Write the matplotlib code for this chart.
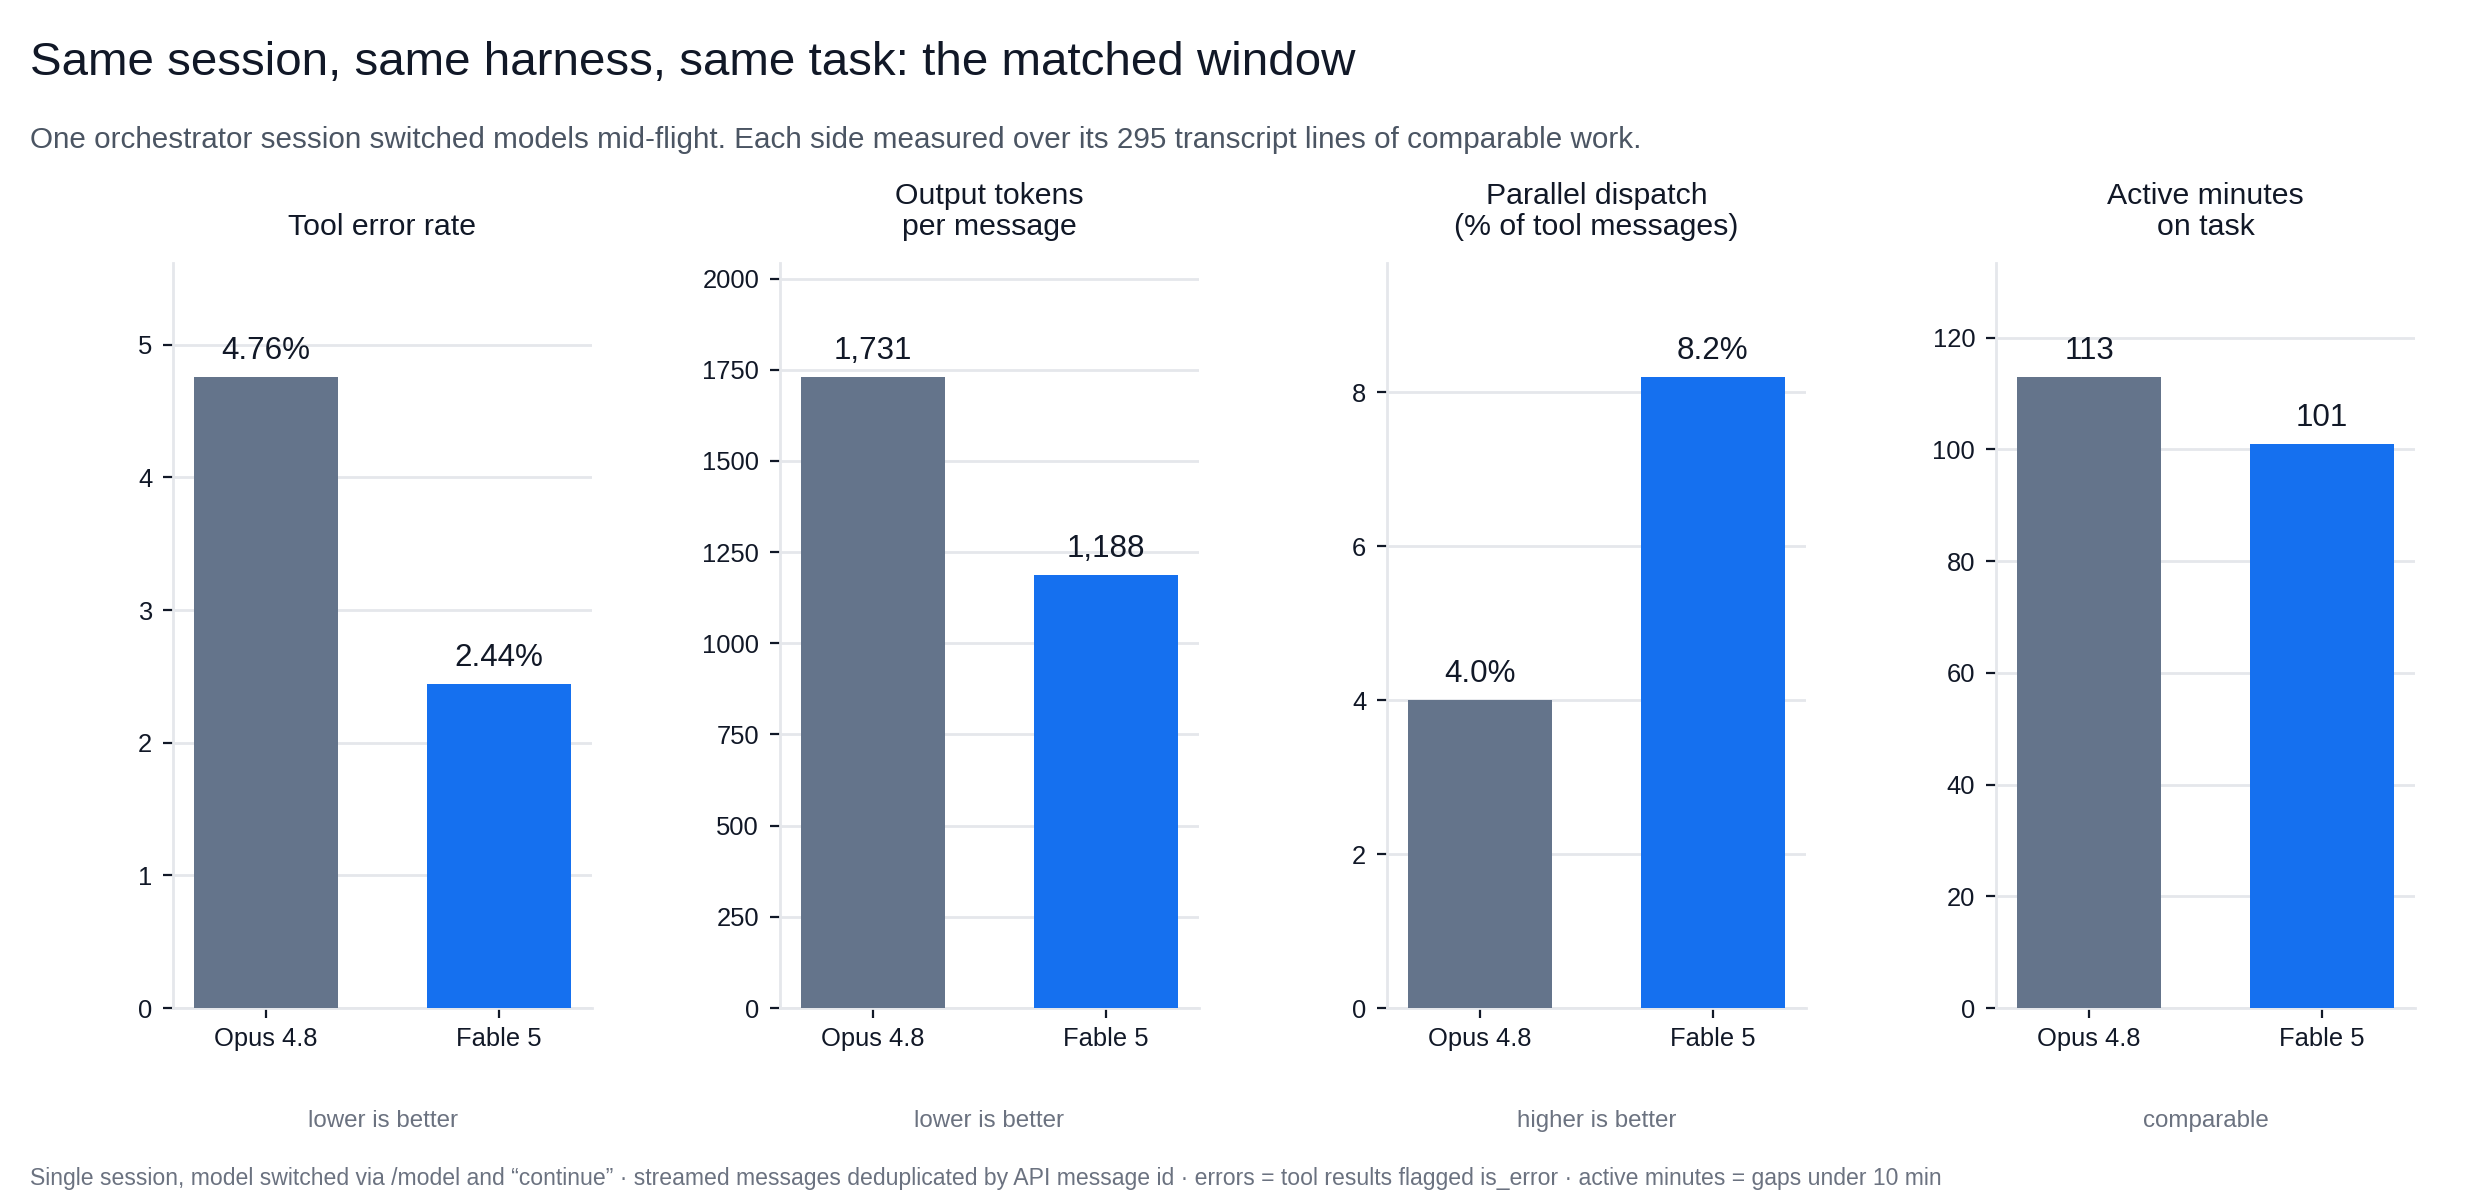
import matplotlib
matplotlib.use("Agg")
import matplotlib.pyplot as plt
from matplotlib.ticker import MultipleLocator

plt.rcParams['font.family'] = ['Liberation Sans', 'DejaVu Sans']

models = ["Opus 4.8", "Fable 5"]
metric_titles = ["Tool error rate", "Output tokens\nper message",
                 "Parallel dispatch\n(% of tool messages)", "Active minutes\non task"]
tool_error_rate = [4.76, 2.44]
output_tokens = [1731, 1188]
parallel_dispatch = [4.0, 8.2]
active_minutes = [113, 101]
value_labels = [["4.76%", "2.44%"], ["1,731", "1,188"], ["4.0%", "8.2%"], ["113", "101"]]
notes = ["lower is better", "lower is better", "higher is better", "comparable"]
tick_steps = [1, 250, 2, 20]

series = [tool_error_rate, output_tokens, parallel_dispatch, active_minutes]

TITLE = "Same session, same harness, same task: the matched window"
SUBTITLE = ("One orchestrator session switched models mid-flight. Each side measured over "
            "its 295 transcript lines of comparable work.")
FOOTER = ("Single session, model switched via /model and \u201ccontinue\u201d \u00b7 streamed messages "
          "deduplicated by API message id \u00b7 errors = tool results flagged is_error \u00b7 "
          "active minutes = gaps under 10 min")

W, H = 2466, 1200
DPI = 200
fig = plt.figure(figsize=(W / DPI, H / DPI), dpi=DPI)
fig.patch.set_facecolor("white")

DARK = "#111827"
GREY_BAR = "#64748B"
BLUE_BAR = "#1570EF"
LIGHT = "#E5E7EB"

fig.text(30 / W, 1 - 63 / H, TITLE, fontsize=17.1, color=DARK, va="center", ha="left")
fig.text(30 / W, 1 - 140 / H, SUBTITLE, fontsize=10.67, color="#4B5563", va="center", ha="left")
fig.text(30 / W, 1 - 1178 / H, FOOTER, fontsize=8.3, color="#6B7280", va="center", ha="left")

lefts = [173, 780, 1387, 1996]
ax_w = 419
ax_top, ax_bot = 263, 1008

for i, vals in enumerate(series):
    ax = fig.add_axes([lefts[i] / W, 1 - ax_bot / H, ax_w / W, (ax_bot - ax_top) / H])
    x = list(range(len(models)))
    ax.bar(x, vals, width=0.62, color=[GREY_BAR, BLUE_BAR], zorder=3)
    ax.set_xlim(-0.4, 1.4)
    ax.set_ylim(0, max(vals) * 1.18)
    ax.yaxis.set_major_locator(MultipleLocator(tick_steps[i]))
    ax.set_xticks(x)
    ax.set_xticklabels(models)
    ax.grid(axis="y", color=LIGHT, linewidth=1.0, zorder=0)
    ax.set_axisbelow(True)
    for s in ["top", "right"]:
        ax.spines[s].set_visible(False)
    for s in ["left", "bottom"]:
        ax.spines[s].set_color(LIGHT)
        ax.spines[s].set_linewidth(1.0)
    ax.tick_params(axis="both", colors=DARK, labelsize=9.2, length=3.5, width=0.8, pad=4)
    ax.tick_params(axis="x", pad=3.3)
    ax.set_title(metric_titles[i], fontsize=10.9, color=DARK, pad=10, linespacing=1.15)
    for xi, v, lab in zip(x, vals, value_labels[i]):
        ax.annotate(lab, (xi, v), xytext=(0, 4), textcoords="offset points",
                    ha="center", va="bottom", fontsize=11.3, color=DARK)
    cx = (lefts[i] + ax_w / 2) / W
    fig.text(cx, 1 - 1121 / H, notes[i], fontsize=8.7, color="#6B7280", ha="center", va="center")

fig.savefig("out.png", dpi=DPI, facecolor="white")
